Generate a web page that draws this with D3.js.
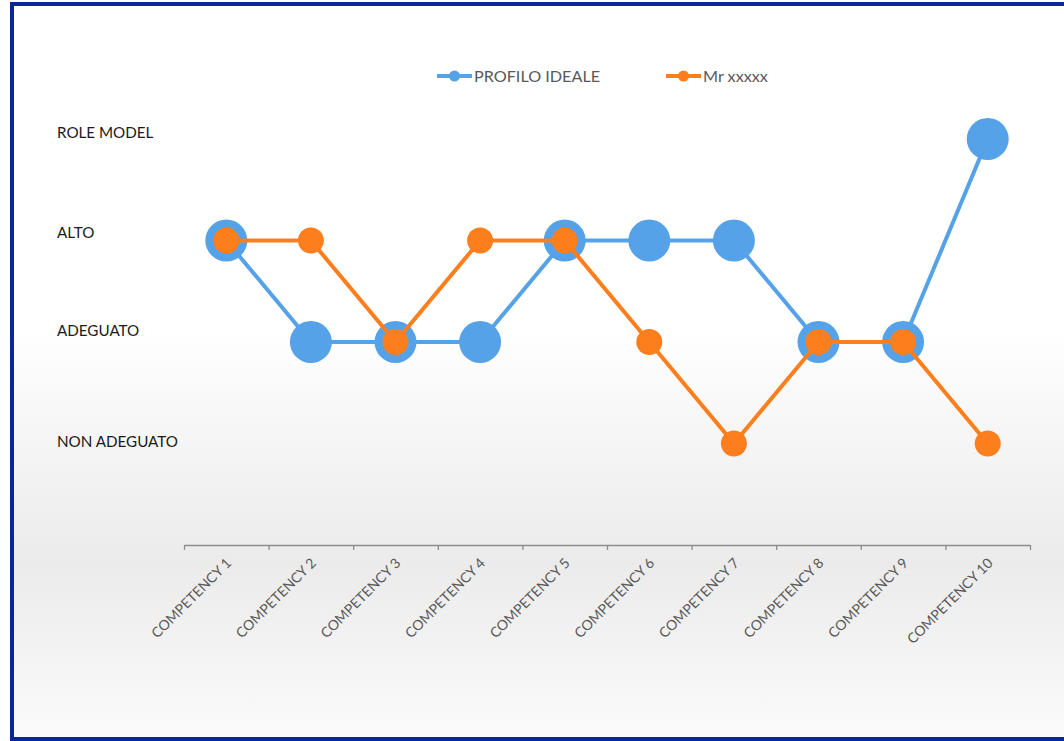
<!DOCTYPE html>
<html>
<head>
<meta charset="utf-8">
<script src="https://cdn.jsdelivr.net/npm/d3@7"></script>
<style>
  body { margin: 0; background: #fff; }
  svg { display: block; font-family: Lato, "Open Sans", sans-serif; }
</style>
</head>
<body>
<svg id="chart" width="1064" height="741"></svg>
<script>
// chart data
var categories = ["COMPETENCY 1", "COMPETENCY 2", "COMPETENCY 3", "COMPETENCY 4", "COMPETENCY 5",
                  "COMPETENCY 6", "COMPETENCY 7", "COMPETENCY 8", "COMPETENCY 9", "COMPETENCY 10"];
var seriesNames = ["PROFILO IDEALE", "Mr xxxxx"];
var profiloIdeale = [3, 2, 2, 2, 3, 3, 3, 2, 2, 4];
var mrValues = [3, 3, 2, 3, 3, 2, 1, 2, 2, 1];
var levelValues = [4, 3, 2, 1];
var levelLabels = ["ROLE MODEL", "ALTO", "ADEGUATO", "NON ADEGUATO"];

var W = 1064, H = 741;
var blue = "#56a2e8", orange = "#fd7e1c";

var svg = d3.select("#chart");

// background gradient, like the Excel chart area
var defs = svg.append("defs");
var grad = defs.append("linearGradient").attr("id", "bg")
  .attr("x1", 0).attr("y1", 0).attr("x2", 0).attr("y2", 1);
grad.append("stop").attr("offset", "0%").attr("stop-color", "#ffffff");
grad.append("stop").attr("offset", "44%").attr("stop-color", "#ffffff");
grad.append("stop").attr("offset", "76%").attr("stop-color", "#ebebeb");
grad.append("stop").attr("offset", "100%").attr("stop-color", "#fbfbfb");

svg.append("rect").attr("x", 0).attr("y", 0).attr("width", W).attr("height", H).attr("fill", "#fff");
svg.append("rect").attr("x", 12).attr("y", 4).attr("width", W).attr("height", H - 6).attr("fill", "url(#bg)");

// dark blue frame (left, top, bottom; right side is cut off)
var frame = svg.append("g").attr("stroke", "#0b2797").attr("stroke-width", 4).attr("fill", "none");
frame.append("path").attr("d", "M" + W + ",4 H12 V739 H" + W);

// scales
var x = d3.scaleBand().domain(categories).range([184, 1030]);
var xEdge = d3.scaleLinear().domain([0, categories.length]).range([184, 1030]);
var y = d3.scaleLinear().domain([0, 4]).range([545, 139]);

// category axis: ticks on band edges
var axisG = svg.append("g").attr("transform", "translate(0," + y(0) + ")")
  .call(d3.axisBottom(xEdge).tickValues(d3.range(categories.length + 1)).tickFormat("").tickSize(5).tickSizeOuter(0));
axisG.select(".domain").attr("stroke", "#8c8c8c").attr("stroke-width", 1.5);
axisG.selectAll(".tick line").attr("stroke", "#8c8c8c").attr("stroke-width", 1.3);

svg.append("g").selectAll("text").data(categories).join("text")
  .attr("transform", function(d) { return "translate(" + (x(d) + x.bandwidth() / 2 + 6) + "," + (y(0) + 19) + ") rotate(-45)"; })
  .attr("text-anchor", "end")
  .attr("font-size", 14)
  .attr("fill", "#595959")
  .text(function(d) { return d; });

// level labels on the left
var labelNudge = [-6, -8, -11, -2];
svg.append("g").selectAll("text").data(levelLabels).join("text")
  .attr("x", 57)
  .attr("y", function(d, i) { return y(levelValues[i]) + labelNudge[i] + 5; })
  .attr("font-size", 15.2)
  .attr("fill", "#1a1a1a")
  .text(function(d) { return d; });

// series
var line = d3.line()
  .x(function(d, i) { return x(categories[i]) + x.bandwidth() / 2; })
  .y(function(d) { return y(d); });

var series = [
  { name: seriesNames[0], values: profiloIdeale, color: blue, r: 21 },
  { name: seriesNames[1], values: mrValues, color: orange, r: 13 }
];

series.forEach(function(s) {
  var g = svg.append("g");
  g.append("path").datum(s.values)
    .attr("d", line)
    .attr("fill", "none")
    .attr("stroke", s.color)
    .attr("stroke-width", 4)
    .attr("stroke-linejoin", "round");
  g.selectAll("circle").data(s.values).join("circle")
    .attr("cx", function(d, i) { return x(categories[i]) + x.bandwidth() / 2; })
    .attr("cy", function(d) { return y(d); })
    .attr("r", s.r)
    .attr("fill", s.color);
});

// legend
var legendX = [437, 666];
var legend = svg.append("g").selectAll("g").data(series).join("g")
  .attr("transform", function(d, i) { return "translate(" + legendX[i] + ",76)"; });
legend.append("line").attr("x1", 0).attr("x2", 35).attr("y1", 0).attr("y2", 0)
  .attr("stroke", function(d) { return d.color; }).attr("stroke-width", 4);
legend.append("circle").attr("cx", 17.5).attr("cy", 0).attr("r", 5.5)
  .attr("fill", function(d) { return d.color; });
legend.append("text").attr("x", 37).attr("y", 6)
  .attr("font-size", 16.2)
  .attr("fill", "#595959")
  .text(function(d) { return d.name; });
</script>
</body>
</html>
